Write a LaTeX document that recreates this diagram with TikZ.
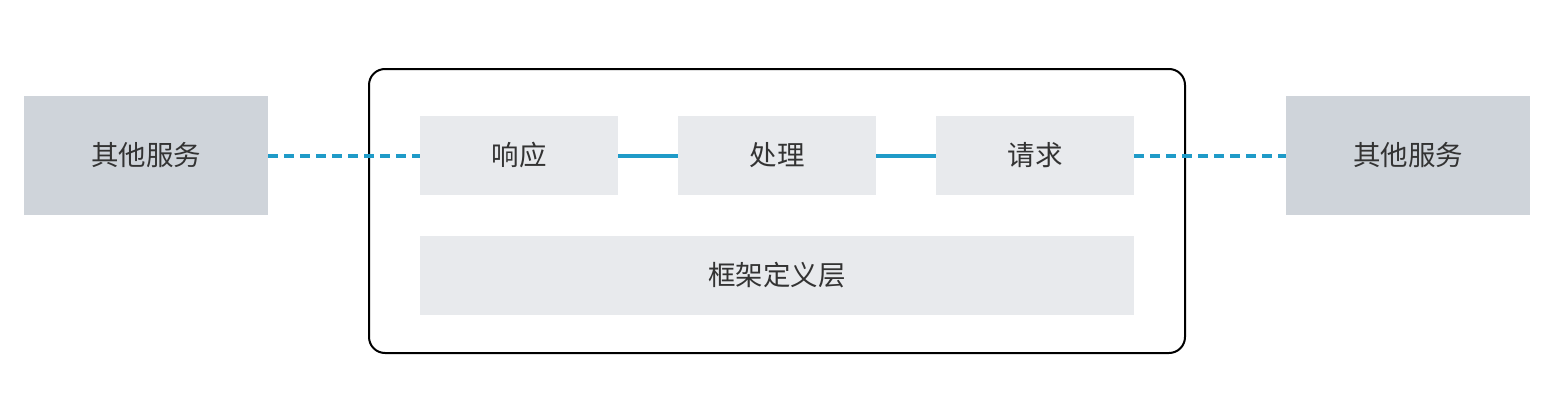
\documentclass[tikz,border=0pt]{standalone}
\usepackage{fontspec}
\newfontfamily\cjk{Noto Sans CJK SC}
\definecolor{outerbox}{HTML}{CFD4DA}
\definecolor{innerbox}{HTML}{E8EAED}
\definecolor{linkblue}{HTML}{1F9BC8}
\definecolor{txt}{HTML}{333333}
\begin{document}
\begin{tikzpicture}[x=1pt,y=-1pt,
  lbl/.style={font=\cjk\fontsize{27.5}{32}\selectfont, text=txt},
  svc/.style={fill=outerbox, draw=none, minimum width=244pt, minimum height=119pt, inner sep=0pt, lbl},
  part/.style={fill=innerbox, draw=none, minimum width=198pt, minimum height=79pt, inner sep=0pt, lbl},
  solidlink/.style={draw=linkblue, line width=4pt},
  dashlink/.style={draw=linkblue, line width=4pt, dash pattern=on 10pt off 6pt}]
\useasboundingbox (0,0) rectangle (1554,404);
\node[draw=black, line width=2pt, rounded corners=16pt, minimum width=816pt, minimum height=284pt, inner sep=0pt] (frame) at (777,211) {};
\node[svc] (left) at (146,155.5) {其他服务};
\node[svc] (right) at (1408,155.5) {其他服务};
\node[part] (resp) at (519,155.5) {响应};
\node[part] (proc) at (777,155.5) {处理};
\node[part] (req) at (1035,155.5) {请求};
\node[part, minimum width=714pt] (def) at (777,275.5) {框架定义层};
\draw[dashlink] (left.east) -- (resp.west);
\draw[solidlink] (resp.east) -- (proc.west);
\draw[solidlink] (proc.east) -- (req.west);
\draw[dashlink] (req.east) -- (right.west);
\end{tikzpicture}
\end{document}
